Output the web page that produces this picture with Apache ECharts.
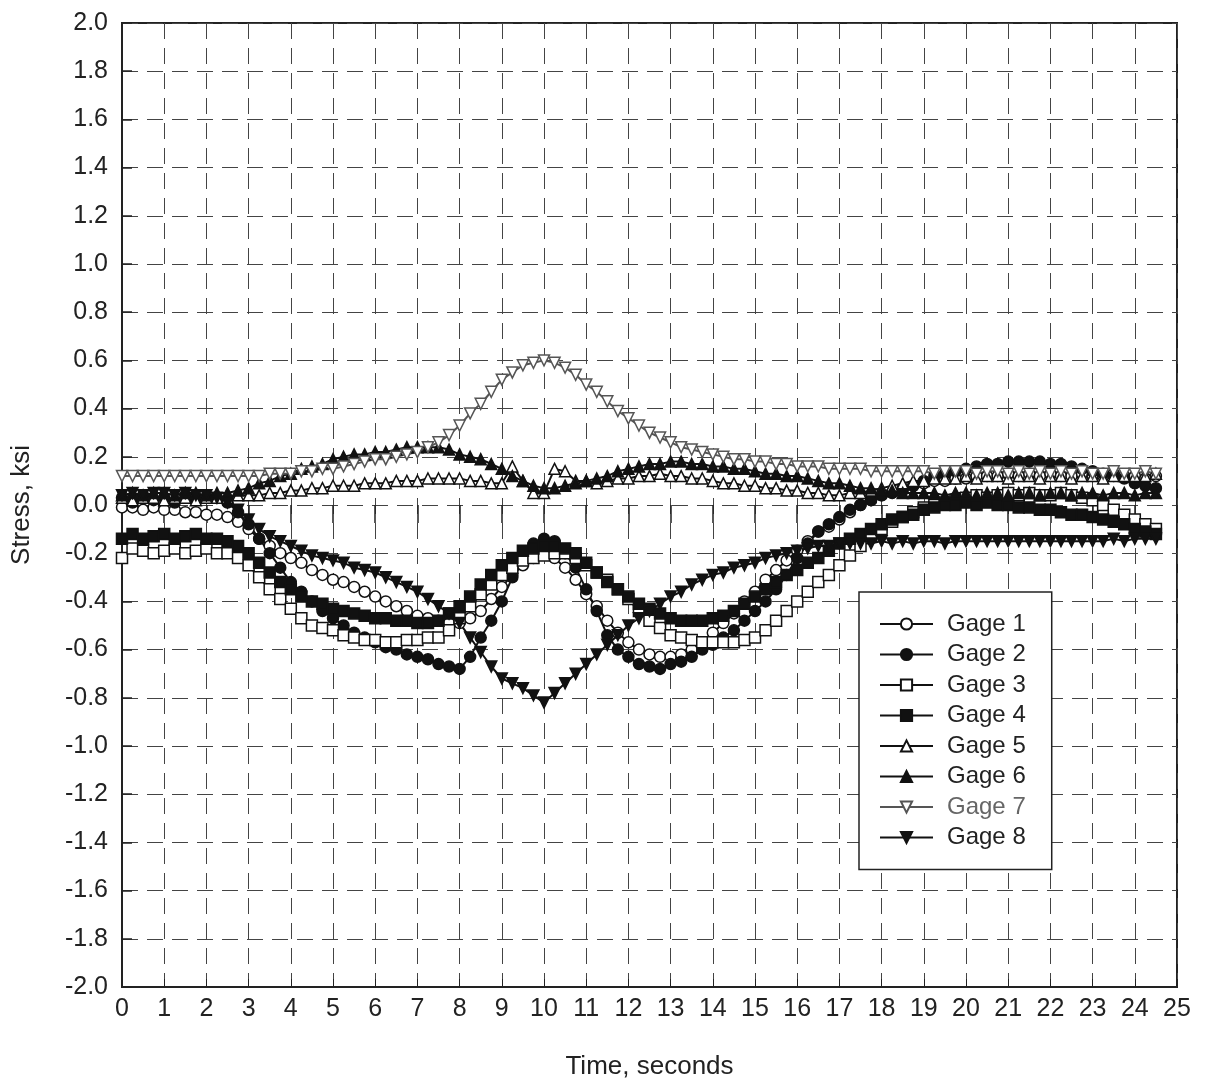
<!DOCTYPE html>
<html>
<head>
    <meta charset="UTF-8">
    <title>Gage stress vs time</title>
    <script src="https://cdn.jsdelivr.net/npm/echarts@6/dist/echarts.min.js"></script>
</head>
<body style="margin:0;background:#fff;">
    <div id="main" style="width:1208px;height:1084px;"></div>
    <script>
        // sample times, seconds
        var times = [
            0,0.25,0.5,0.75,1,1.25,1.5,1.75,2,2.25,
            2.5,2.75,3,3.25,3.5,3.75,4,4.25,4.5,4.75,
            5,5.25,5.5,5.75,6,6.25,6.5,6.75,7,7.25,
            7.5,7.75,8,8.25,8.5,8.75,9,9.25,9.5,9.75,
            10,10.25,10.5,10.75,11,11.25,11.5,11.75,12,12.25,
            12.5,12.75,13,13.25,13.5,13.75,14,14.25,14.5,14.75,
            15,15.25,15.5,15.75,16,16.25,16.5,16.75,17,17.25,
            17.5,17.75,18,18.25,18.5,18.75,19,19.25,19.5,19.75,
            20,20.25,20.5,20.75,21,21.25,21.5,21.75,22,22.25,
            22.5,22.75,23,23.25,23.5,23.75,24,24.25,24.5
        ];
        // stress, ksi
        var gage1 = [
            -0.01,-0.01,-0.02,-0.01,-0.02,-0.02,-0.03,-0.03,-0.04,-0.04,
            -0.05,-0.07,-0.1,-0.14,-0.17,-0.2,-0.22,-0.24,-0.27,-0.29,
            -0.31,-0.32,-0.34,-0.36,-0.38,-0.40,-0.42,-0.44,-0.46,-0.47,
            -0.48,-0.49,-0.49,-0.47,-0.44,-0.39,-0.34,-0.29,-0.25,-0.22,
            -0.2,-0.22,-0.26,-0.31,-0.37,-0.42,-0.48,-0.53,-0.57,-0.6,
            -0.62,-0.63,-0.63,-0.62,-0.6,-0.57,-0.53,-0.49,-0.45,-0.4,
            -0.36,-0.31,-0.27,-0.23,-0.19,-0.15,-0.11,-0.09,-0.06,-0.03,
            0.0,0.02,0.04,0.05,0.07,0.08,0.09,0.1,0.1,0.11,
            0.11,0.12,0.12,0.12,0.13,0.12,0.13,0.12,0.13,0.12,
            0.12,0.13,0.12,0.12,0.13,0.12,0.12,0.11,0.12
        ];
        var gage2 = [
            0.03,0.01,0.04,0.02,0.03,0.01,0.04,0.02,0.03,0.03,
            0.01,-0.03,-0.08,-0.14,-0.2,-0.26,-0.32,-0.36,-0.4,-0.44,
            -0.47,-0.5,-0.53,-0.55,-0.57,-0.59,-0.6,-0.62,-0.63,-0.64,
            -0.66,-0.67,-0.68,-0.63,-0.55,-0.48,-0.4,-0.3,-0.21,-0.16,
            -0.14,-0.15,-0.2,-0.26,-0.35,-0.44,-0.54,-0.6,-0.63,-0.66,
            -0.67,-0.68,-0.66,-0.65,-0.63,-0.6,-0.58,-0.55,-0.52,-0.48,
            -0.44,-0.4,-0.35,-0.29,-0.22,-0.16,-0.11,-0.08,-0.05,-0.02,
            0.0,0.02,0.04,0.05,0.06,0.08,0.1,0.12,0.13,0.14,
            0.15,0.16,0.17,0.17,0.18,0.18,0.18,0.18,0.17,0.17,
            0.16,0.15,0.14,0.13,0.12,0.11,0.09,0.08,0.07
        ];
        var gage3 = [
            -0.22,-0.18,-0.19,-0.2,-0.19,-0.18,-0.2,-0.19,-0.18,-0.2,
            -0.2,-0.22,-0.25,-0.3,-0.35,-0.39,-0.43,-0.47,-0.5,-0.51,
            -0.52,-0.54,-0.55,-0.56,-0.56,-0.57,-0.57,-0.56,-0.56,-0.55,
            -0.55,-0.52,-0.47,-0.42,-0.37,-0.33,-0.29,-0.26,-0.23,-0.22,
            -0.21,-0.2,-0.2,-0.22,-0.25,-0.28,-0.31,-0.35,-0.39,-0.44,
            -0.48,-0.51,-0.54,-0.55,-0.56,-0.57,-0.57,-0.57,-0.57,-0.56,
            -0.55,-0.52,-0.48,-0.44,-0.4,-0.36,-0.32,-0.29,-0.25,-0.21,
            -0.17,-0.13,-0.1,-0.07,-0.05,-0.03,-0.01,0.0,0.01,0.02,
            0.03,0.04,0.03,0.04,0.05,0.04,0.05,0.04,0.04,0.05,
            0.04,0.03,0.02,0.0,-0.02,-0.04,-0.06,-0.08,-0.1
        ];
        var gage4 = [
            -0.14,-0.12,-0.14,-0.13,-0.12,-0.14,-0.13,-0.12,-0.14,-0.14,
            -0.15,-0.17,-0.2,-0.24,-0.28,-0.32,-0.35,-0.38,-0.4,-0.41,
            -0.43,-0.44,-0.45,-0.46,-0.47,-0.47,-0.48,-0.48,-0.49,-0.49,
            -0.48,-0.45,-0.42,-0.38,-0.33,-0.29,-0.25,-0.22,-0.19,-0.18,
            -0.17,-0.17,-0.18,-0.2,-0.24,-0.28,-0.32,-0.35,-0.38,-0.41,
            -0.43,-0.45,-0.47,-0.48,-0.48,-0.48,-0.47,-0.46,-0.44,-0.41,
            -0.38,-0.35,-0.32,-0.29,-0.27,-0.24,-0.22,-0.19,-0.16,-0.14,
            -0.12,-0.1,-0.08,-0.06,-0.05,-0.04,-0.02,-0.01,0.0,0.0,
            0.01,0.0,0.01,0.0,0.0,-0.01,-0.01,-0.02,-0.02,-0.03,
            -0.04,-0.04,-0.05,-0.06,-0.07,-0.08,-0.1,-0.11,-0.12
        ];
        var gage5 = [
            0.03,0.02,0.03,0.03,0.02,0.03,0.03,0.02,0.03,0.03,
            0.03,0.04,0.04,0.04,0.05,0.05,0.06,0.06,0.07,0.07,
            0.08,0.08,0.08,0.09,0.09,0.09,0.1,0.1,0.1,0.11,
            0.11,0.11,0.11,0.1,0.1,0.09,0.09,0.16,0.1,0.05,
            0.05,0.15,0.14,0.1,0.1,0.09,0.1,0.11,0.11,0.12,
            0.12,0.13,0.12,0.12,0.11,0.11,0.1,0.09,0.09,0.08,
            0.08,0.07,0.07,0.06,0.06,0.05,0.05,0.04,0.04,0.05,
            0.05,0.06,0.07,0.08,0.09,0.1,0.1,0.11,0.11,0.11,
            0.12,0.11,0.12,0.12,0.11,0.12,0.12,0.11,0.12,0.12,
            0.11,0.12,0.12,0.11,0.12,0.12,0.12,0.12,0.13
        ];
        var gage6 = [
            0.04,0.05,0.04,0.05,0.05,0.04,0.05,0.05,0.04,0.05,
            0.05,0.06,0.07,0.09,0.1,0.12,0.13,0.15,0.16,0.17,
            0.19,0.2,0.21,0.21,0.22,0.22,0.23,0.24,0.24,0.24,
            0.24,0.23,0.21,0.2,0.19,0.17,0.15,0.12,0.1,0.08,
            0.07,0.07,0.08,0.09,0.1,0.11,0.12,0.14,0.15,0.16,
            0.17,0.17,0.18,0.18,0.17,0.17,0.16,0.16,0.15,0.15,
            0.14,0.13,0.13,0.12,0.12,0.11,0.1,0.09,0.09,0.08,
            0.07,0.07,0.06,0.06,0.05,0.05,0.05,0.05,0.04,0.05,
            0.05,0.04,0.05,0.05,0.04,0.05,0.05,0.04,0.05,0.05,
            0.04,0.05,0.05,0.04,0.05,0.05,0.04,0.05,0.05
        ];
        var gage7 = [
            0.12,0.12,0.12,0.12,0.12,0.12,0.12,0.12,0.12,0.12,
            0.12,0.12,0.12,0.12,0.13,0.13,0.13,0.14,0.14,0.15,
            0.15,0.16,0.17,0.18,0.19,0.19,0.2,0.21,0.22,0.24,
            0.26,0.29,0.33,0.38,0.42,0.47,0.52,0.55,0.58,0.59,
            0.6,0.59,0.57,0.54,0.5,0.47,0.43,0.39,0.36,0.33,
            0.3,0.28,0.26,0.24,0.23,0.22,0.21,0.2,0.19,0.19,
            0.18,0.18,0.17,0.17,0.16,0.16,0.16,0.15,0.15,0.15,
            0.15,0.14,0.14,0.14,0.14,0.14,0.14,0.13,0.14,0.14,
            0.14,0.13,0.14,0.14,0.13,0.14,0.13,0.14,0.13,0.14,
            0.13,0.14,0.13,0.13,0.14,0.13,0.13,0.14,0.13
        ];
        var gage8 = [
            0.04,0.05,0.04,0.05,0.05,0.04,0.05,0.04,0.04,0.03,
            0.01,-0.02,-0.06,-0.1,-0.13,-0.15,-0.17,-0.19,-0.21,-0.22,
            -0.23,-0.24,-0.26,-0.27,-0.28,-0.3,-0.32,-0.34,-0.36,-0.39,
            -0.42,-0.45,-0.49,-0.55,-0.61,-0.67,-0.72,-0.74,-0.76,-0.79,
            -0.82,-0.78,-0.74,-0.7,-0.66,-0.62,-0.58,-0.54,-0.5,-0.47,
            -0.44,-0.41,-0.38,-0.36,-0.33,-0.31,-0.29,-0.28,-0.26,-0.25,
            -0.24,-0.22,-0.21,-0.2,-0.19,-0.18,-0.17,-0.17,-0.16,-0.16,
            -0.16,-0.16,-0.15,-0.16,-0.15,-0.16,-0.15,-0.15,-0.16,-0.15,
            -0.15,-0.15,-0.15,-0.15,-0.15,-0.15,-0.15,-0.15,-0.15,-0.15,
            -0.15,-0.15,-0.15,-0.15,-0.14,-0.15,-0.14,-0.14,-0.14
        ];
        var gageNames = ['Gage 1','Gage 2','Gage 3','Gage 4','Gage 5','Gage 6','Gage 7','Gage 8'];

        var FONT = '"Liberation Sans", Arial, sans-serif';
        var downTri = 'path://M0,0L20,0L10,18Z';

        function makeSeries(name, values, symbol, filled, color) {
            return {
                name: name,
                type: 'line',
                data: times.map(function (t, i) { return [t, values[i]]; }),
                symbol: symbol,
                symbolSize: 11,
                lineStyle: { color: color, width: 2 },
                itemStyle: { color: filled ? color : '#fff', borderColor: color, borderWidth: 1.5 }
            };
        }

        var chart = echarts.init(document.getElementById('main'));
        chart.setOption({
            animation: false,
            backgroundColor: '#fff',
            grid: {
                left: 122, right: 31, top: 23, bottom: 97,
                outerBoundsMode: 'none',
                show: true, borderColor: '#222', borderWidth: 2
            },
            legend: {
                orient: 'vertical',
                left: 859,
                top: 592,
                padding: [20, 26, 20, 20],
                borderColor: '#222',
                borderWidth: 1.5,
                backgroundColor: '#fff',
                itemWidth: 53,
                itemHeight: 14,
                itemGap: 6.5,
                textStyle: { fontFamily: FONT, fontSize: 24, lineHeight: 24, color: '#222', padding: [0, 0, 0, 9] },
                data: gageNames.map(function (n) {
                    return n === 'Gage 7' ? { name: n, textStyle: { color: '#666' } } : { name: n };
                })
            },
            xAxis: [{
                type: 'value', min: 0, max: 25, interval: 1,
                name: 'Time, seconds', nameLocation: 'middle', nameGap: 67,
                nameTextStyle: { fontFamily: FONT, fontSize: 26, color: '#222' },
                axisLine: { onZero: false, lineStyle: { color: '#222', width: 2 } },
                axisTick: { inside: true, length: 8, lineStyle: { color: '#222' } },
                axisLabel: { fontFamily: FONT, fontSize: 25, color: '#222', margin: 10 },
                splitLine: { show: true, lineStyle: { color: '#444', width: 1, type: [16, 9] } }
            }, {
                type: 'value', min: 0, max: 25, interval: 1, position: 'top',
                axisLine: { show: false },
                axisTick: { inside: true, length: 18, lineStyle: { color: '#222', width: 1.5 } },
                axisLabel: { show: false },
                splitLine: { show: false }
            }],
            yAxis: {
                type: 'value', min: -2, max: 2, interval: 0.2,
                name: 'Stress, ksi', nameLocation: 'middle', nameGap: 87,
                nameTextStyle: { fontFamily: FONT, fontSize: 26, color: '#222' },
                axisLine: { show: true, onZero: false, lineStyle: { color: '#222', width: 2 } },
                axisTick: { show: true, inside: true, length: 10, lineStyle: { color: '#222', width: 1.5 } },
                axisLabel: {
                    fontFamily: FONT, fontSize: 25, color: '#222', margin: 14,
                    formatter: function (v) { return v.toFixed(1); }
                },
                splitLine: { show: true, lineStyle: { color: '#444', width: 1, type: [16, 9] } }
            },
            series: [
                makeSeries('Gage 1', gage1, 'circle', false, '#111'),
                makeSeries('Gage 2', gage2, 'circle', true, '#111'),
                makeSeries('Gage 3', gage3, 'rect', false, '#111'),
                makeSeries('Gage 4', gage4, 'rect', true, '#111'),
                makeSeries('Gage 5', gage5, 'triangle', false, '#111'),
                makeSeries('Gage 6', gage6, 'triangle', true, '#111'),
                makeSeries('Gage 7', gage7, downTri, false, '#555'),
                makeSeries('Gage 8', gage8, downTri, true, '#111')
            ]
        });
    </script>
</body>
</html>
